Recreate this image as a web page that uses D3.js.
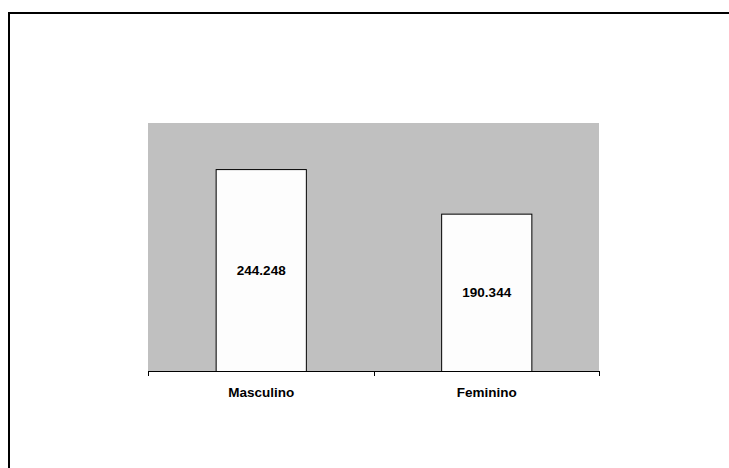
<!DOCTYPE html>
<html>
<head>
<meta charset="utf-8">
<script src="https://cdn.jsdelivr.net/npm/d3@7/dist/d3.min.js"></script>
<style>
  html, body { margin: 0; padding: 0; background: #fff; }
  svg { display: block; }
  text { font-family: Arial, "Liberation Sans", sans-serif; font-weight: bold; }
</style>
</head>
<body>
<svg id="chart" width="729" height="468"></svg>
<script>
// Population by sex
const categories = ["Masculino", "Feminino"];
const values = [244248, 190344];
const valueLabels = ["244.248", "190.344"];
const yMax = 300000;

const svg = d3.select("#chart");

// Chart-area frame (extends past the right and bottom edges)
svg.append("rect")
  .attr("x", 9).attr("y", 13)
  .attr("width", 760).attr("height", 500)
  .attr("fill", "#fff")
  .attr("stroke", "#000")
  .attr("stroke-width", 2);

const plot = { left: 148, top: 123, right: 599, bottom: 371 };

const x = d3.scaleBand()
  .domain(categories)
  .range([plot.left, plot.right])
  .paddingInner(0.6)
  .paddingOuter(0.3);

const y = d3.scaleLinear()
  .domain([0, yMax])
  .range([plot.bottom, plot.top]);

// Plot background
svg.append("rect")
  .attr("x", plot.left).attr("y", plot.top)
  .attr("width", plot.right - plot.left)
  .attr("height", plot.bottom - plot.top)
  .attr("fill", "#c0c0c0");

// Bars
svg.selectAll("rect.bar")
  .data(values)
  .join("rect")
  .attr("class", "bar")
  .attr("x", (d, i) => x(categories[i]) + 0.5)
  .attr("y", d => y(d) + 0.5)
  .attr("width", x.bandwidth())
  .attr("height", d => plot.bottom - y(d))
  .attr("fill", "#fdfdfd")
  .attr("stroke", "#000")
  .attr("stroke-width", 1);

// Value labels inside bars
svg.selectAll("text.val")
  .data(values)
  .join("text")
  .attr("class", "val")
  .attr("x", (d, i) => x(categories[i]) + x.bandwidth() / 2 + 0.5)
  .attr("y", d => (y(d) + plot.bottom) / 2)
  .attr("dy", "0.35em")
  .attr("text-anchor", "middle")
  .attr("font-size", 13.5)
  .attr("fill", "#000")
  .text((d, i) => valueLabels[i]);

// Category axis with ticks between categories
const xEdges = d3.scaleLinear().domain([0, categories.length]).range([plot.left, plot.right]);
const axisG = svg.append("g");
axisG.append("line")
  .attr("x1", plot.left).attr("x2", plot.right)
  .attr("y1", plot.bottom + 0.5).attr("y2", plot.bottom + 0.5)
  .attr("stroke", "#000");
axisG.selectAll("line.tick")
  .data(d3.range(categories.length + 1))
  .join("line")
  .attr("class", "tick")
  .attr("x1", d => Math.round(xEdges(d)) + 0.5)
  .attr("x2", d => Math.round(xEdges(d)) + 0.5)
  .attr("y1", plot.bottom)
  .attr("y2", plot.bottom + 5)
  .attr("stroke", "#000");

axisG.selectAll("text.cat")
  .data(categories)
  .join("text")
  .attr("class", "cat")
  .attr("x", d => x(d) + x.bandwidth() / 2 + 0.5)
  .attr("y", 392)
  .attr("dy", "0.35em")
  .attr("text-anchor", "middle")
  .attr("font-size", 13.5)
  .attr("fill", "#000")
  .text(d => d);
</script>
</body>
</html>
